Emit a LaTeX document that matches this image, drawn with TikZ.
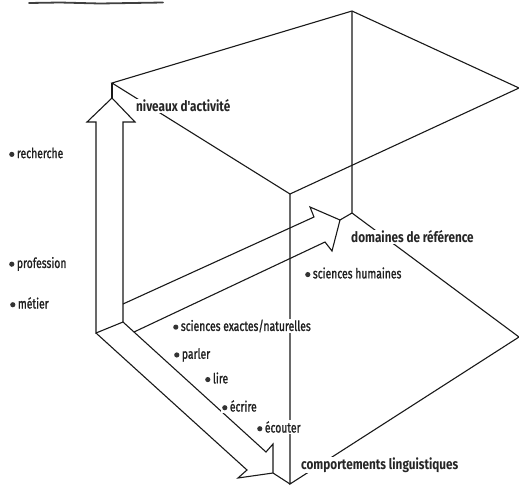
\documentclass[tikz,border=0pt]{standalone}
\usepackage{fontspec}
\setmainfont{Fira Sans}[FakeStretch=0.75]
\newfontfamily\itemfont{Fira Sans}[FakeStretch=0.74,FakeBold=1.2]
\newfontfamily\axisfont{Fira Sans}[FakeStretch=0.81,UprightFont=*,BoldFont=* Bold]
\newcommand{\dotmark}{\tikz[baseline=0pt,x=1cm,y=1cm]\fill[black!80] (0,3.8pt) circle (2.6pt);\hspace{2.5pt}}
\begin{document}
\begin{tikzpicture}[x=1pt,y=-1pt,
  edge/.style={line width=1.1pt,draw=black!90,line join=miter},
  lbl/.style={anchor=west,fill=white,inner sep=1pt,font=\itemfont\fontsize{14}{15}\selectfont,text=black!88},
  axislbl/.style={anchor=west,fill=white,inner sep=1pt,font=\axisfont\fontsize{14.5}{15}\selectfont\bfseries,text=black!85}]
\useasboundingbox (0,0) rectangle (519,485);
% cube vertices
\coordinate (A) at (112,83);
\coordinate (B) at (352,11);
\coordinate (C) at (519,88);
\coordinate (E) at (290,194);
\coordinate (Q) at (352,213);
\coordinate (R) at (519,337);
\coordinate (P) at (290,484);
% vertical arrow
\coordinate (tipV) at (112,98);
\coordinate (bVR) at (135,122);
\coordinate (sVR) at (123,122);
\coordinate (I0) at (123,322);
\coordinate (L0) at (96,333);
\coordinate (sVL) at (96,122);
\coordinate (bVL) at (87,122);
% domaines arrow
\coordinate (D1) at (123,304);
\coordinate (D2) at (314,217);
\coordinate (D3) at (310,207);
\coordinate (tipD) at (340,220);
\coordinate (D5) at (332,251);
\coordinate (D6) at (325,242);
\coordinate (D7) at (134,332);
% comportements arrow
\coordinate (K1) at (247,470);
\coordinate (K2) at (238,478);
\coordinate (tipK) at (273,473);
\coordinate (K4) at (273,444);
\coordinate (K5) at (266,452);
% scan stroke at top
\coordinate (S1) at (29,3);
\coordinate (S2) at (60,2.5);
\coordinate (S3) at (100,3.5);
\coordinate (S4) at (163,2.5);
\draw[line width=1.8pt,draw=black!75,line cap=round] (S1) -- (S2) -- (S3) -- (S4);
% cube edges
\draw[edge] (A) -- (B) -- (C) -- (E) -- cycle;
\draw[edge] (B) -- (Q) -- (R) -- (P) -- (E);
\draw[edge] (A) -- (tipV);
\draw[edge] (tipD) -- (Q);
\draw[edge] (tipK) -- (P);
% arrows
\draw[edge] (tipV) -- (bVR) -- (sVR) -- (I0) -- (L0) -- (sVL) -- (bVL) -- cycle;
\draw[edge] (L0) -- (K1) -- (K2) -- (tipK) -- (K4) -- (K5) -- (I0);
\draw[edge] (D1) -- (D2) -- (D3) -- (tipD) -- (D5) -- (D6) -- (D7);
% labels
\node[axislbl] (niv) at (135,106) {niveaux d'activité};
\node[axislbl] (dom) at (350,237) {domaines de référence};
\node[axislbl] (com) at (300,465) {comportements linguistiques};
\node[lbl] (rech) at (8,153) {\dotmark recherche};
\node[lbl] (prof) at (8,264) {\dotmark profession};
\node[lbl] (met) at (9,303) {\dotmark métier};
\node[lbl] (sex) at (172,326) {\dotmark sciences exactes/naturelles};
\node[lbl] (shu) at (304,273) {\dotmark sciences humaines};
\node[lbl] (par) at (173,355) {\dotmark parler};
\node[lbl] (lir) at (204,378) {\dotmark lire};
\node[lbl] (ecr) at (221,406) {\dotmark écrire};
\node[lbl] (eco) at (256,427) {\dotmark écouter};
\end{tikzpicture}
\end{document}
